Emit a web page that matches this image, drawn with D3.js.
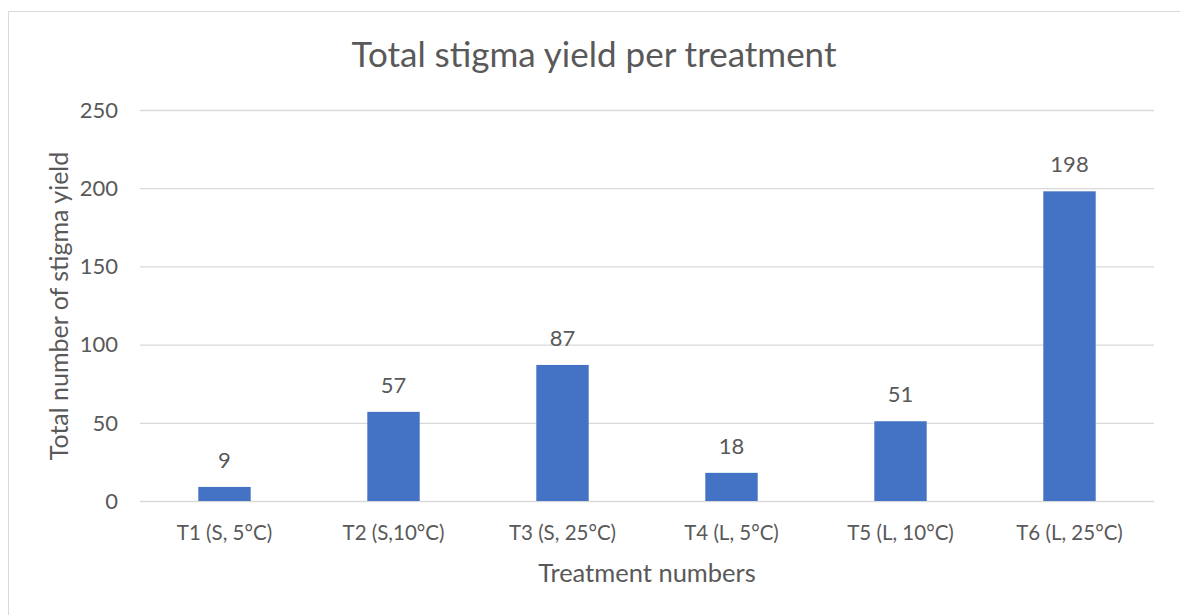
<!DOCTYPE html>
<html>
<head>
<meta charset="utf-8">
<script src="https://cdn.jsdelivr.net/npm/d3@7"></script>
<style>
  body { margin: 0; background: #fff; }
  text { font-family: Lato, "Open Sans", sans-serif; fill: #595959; }
</style>
</head>
<body>
<div id="chart"></div>
<script>
const categories = ["T1 (S, 5°C)", "T2 (S,10°C)", "T3 (S, 25°C)", "T4 (L, 5°C)", "T5 (L, 10°C)", "T6 (L, 25°C)"];
const yieldValues = [9, 57, 87, 18, 51, 198];
const yTicks = [0, 50, 100, 150, 200, 250];

const width = 1180, height = 615;
const margin = {left: 140, right: 26, top: 110, bottom: 114};

const svg = d3.select("#chart")
    .append("svg")
    .attr("width", width)
    .attr("height", height);

// chart frame
svg.append("rect")
    .attr("x", 8.5)
    .attr("y", 11.5)
    .attr("width", 1200)
    .attr("height", 700)
    .attr("fill", "none")
    .attr("stroke", "#d9d9d9");

const x = d3.scaleBand()
    .domain(categories)
    .range([margin.left, width - margin.right])
    .paddingInner(0.69)
    .paddingOuter(0.345);

const y = d3.scaleLinear()
    .domain([0, 250])
    .range([height - margin.bottom, margin.top]);

// gridlines
svg.append("g")
    .selectAll("line")
    .data(yTicks)
    .join("line")
    .attr("x1", margin.left)
    .attr("x2", width - margin.right)
    .attr("y1", d => y(d) + 0.5)
    .attr("y2", d => y(d) + 0.5)
    .attr("stroke", "#d9d9d9")
    .attr("stroke-width", 1.3);

// y tick labels
svg.append("g")
    .selectAll("text")
    .data(yTicks)
    .join("text")
    .attr("x", 118)
    .attr("y", d => y(d))
    .attr("dy", "0.35em")
    .attr("text-anchor", "end")
    .style("font-size", "22px")
    .text(d => d);

// bars
svg.append("g")
    .selectAll("rect")
    .data(yieldValues)
    .join("rect")
    .attr("x", (d, i) => x(categories[i]))
    .attr("y", d => y(d))
    .attr("width", x.bandwidth())
    .attr("height", d => y(0) - y(d))
    .attr("fill", "#4472c4");

// value labels
svg.append("g")
    .selectAll("text")
    .data(yieldValues)
    .join("text")
    .attr("x", (d, i) => x(categories[i]) + x.bandwidth() / 2)
    .attr("y", d => y(d) - 19)
    .attr("text-anchor", "middle")
    .style("font-size", "22px")
    .text(d => d);

// x tick labels
svg.append("g")
    .selectAll("text")
    .data(categories)
    .join("text")
    .attr("x", d => x(d) + x.bandwidth() / 2)
    .attr("y", 540)
    .attr("text-anchor", "middle")
    .style("font-size", "20.5px")
    .text(d => d);

// title
svg.append("text")
    .attr("x", 594)
    .attr("y", 67)
    .attr("text-anchor", "middle")
    .style("font-size", "35px")
    .text("Total stigma yield per treatment");

// axis titles
svg.append("text")
    .attr("x", 647)
    .attr("y", 582)
    .attr("text-anchor", "middle")
    .style("font-size", "25.5px")
    .text("Treatment numbers");

svg.append("text")
    .attr("transform", "translate(68, 306) rotate(-90)")
    .attr("text-anchor", "middle")
    .style("font-size", "25px")
    .text("Total number of stigma yield");
</script>
</body>
</html>
